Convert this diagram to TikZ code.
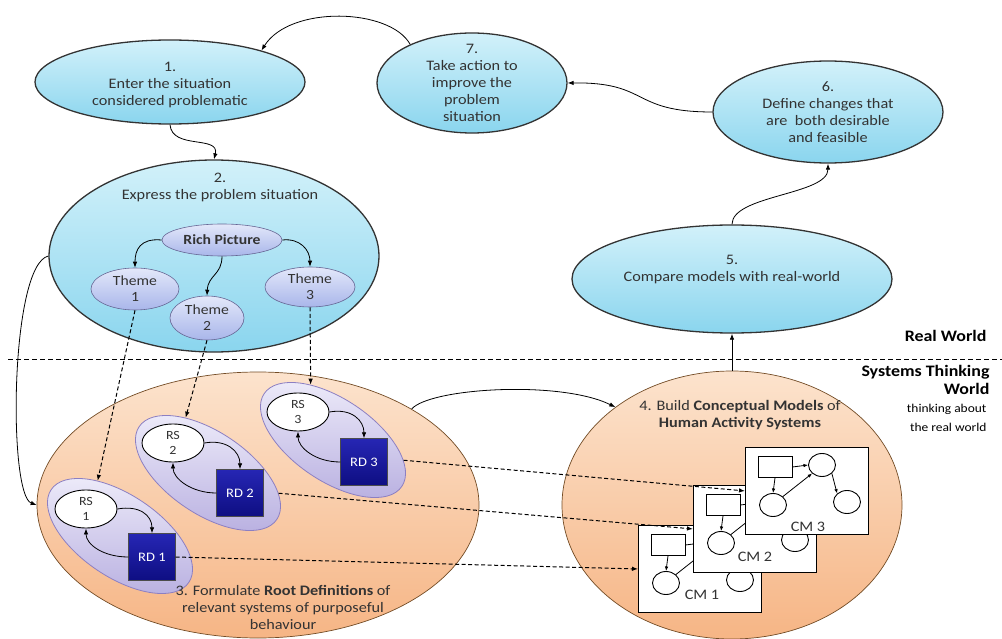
\documentclass[tikz,border=0pt]{standalone}
\usepackage{fontspec}
\setmainfont{Carlito}[FakeStretch=1.12]
\usetikzlibrary{shapes.geometric, arrows.meta}

\definecolor{skytop}{HTML}{D2F1FA}
\definecolor{skybot}{HTML}{8AD5EE}
\definecolor{peachtop}{HTML}{FCE3CD}
\definecolor{peachbot}{HTML}{F6B585}
\definecolor{lilactop}{HTML}{EFEDFA}
\definecolor{lilacbot}{HTML}{B7AEE0}
\definecolor{lilacedge}{HTML}{8C7FC2}
\definecolor{themetop}{HTML}{E3E8FA}
\definecolor{themebot}{HTML}{A9B6EA}
\definecolor{rdtop}{HTML}{2626B4}
\definecolor{rdbot}{HTML}{0E0E82}
\definecolor{inkgray}{HTML}{333333}

\tikzset{
  stagenode/.style={ellipse, draw=black!80, line width=1.3pt, top color=skytop, bottom color=skybot, inner sep=0pt},
  worknode/.style={ellipse, draw=brown!60!black, line width=0.7pt, top color=peachtop, bottom color=peachbot, inner sep=0pt},
  themenode/.style={ellipse, draw=blue!30!black!60, line width=0.6pt, top color=themetop, bottom color=themebot, inner sep=0pt, align=center, text=inkgray, font=\fontsize{14}{16}\selectfont},
  groupnode/.style={ellipse, draw=lilacedge, line width=0.8pt, top color=lilactop, bottom color=lilacbot, inner sep=0pt, minimum width=166pt, minimum height=82pt, rotate=-34},
  rsnode/.style={ellipse, draw=black, line width=0.9pt, fill=white, inner sep=0pt, minimum width=62pt, minimum height=38pt, align=center, text=inkgray, font=\fontsize{12.5}{15}\selectfont},
  rdnode/.style={rectangle, draw=black!70, top color=rdtop, bottom color=rdbot, text=white, minimum size=47pt, inner sep=0pt, font=\fontsize{13}{15}\selectfont},
  cmbox/.style={rectangle, draw=black, line width=0.9pt, fill=white, minimum width=123pt, minimum height=87pt, anchor=north west, inner sep=0pt},
  cmrect/.style={rectangle, draw=black, line width=0.9pt, minimum width=34pt, minimum height=21pt, inner sep=0pt},
  cmcirc/.style={ellipse, draw=black, line width=0.9pt, minimum width=27pt, minimum height=23pt, inner sep=0pt},
  lbl/.style={align=center, text=inkgray, font=\fontsize{14.5}{17}\selectfont},
  arr/.style={line width=0.8pt, -{Latex[length=6pt,width=4.5pt]}},
  darr/.style={arr, dash pattern=on 4pt off 2.5pt, line width=1pt},
  cmarr/.style={line width=0.8pt, -{Latex[length=4.5pt,width=3.5pt]}},
}

\begin{document}
\begin{tikzpicture}[x=1pt, y=-1pt]

\useasboundingbox (0,0) rectangle (1002,639);

\draw[dash pattern=on 5pt off 3pt, line width=0.9pt] (8,359) -- (1002,359);

% the real world
\node (n1) at (170,82) [stagenode, minimum width=270pt, minimum height=84pt] {};
\node (n7) at (472,83) [stagenode, minimum width=190pt, minimum height=100pt] {};
\node (n6) at (828,112) [stagenode, minimum width=230pt, minimum height=102pt] {};
\node (n5) at (732,279) [stagenode, minimum width=320pt, minimum height=108pt] {};
\node (n2) at (214,256) [stagenode, minimum width=330pt, minimum height=192pt] {};

\node (t1) at (170,85) [lbl] {1.\\Enter the situation\\considered problematic};
\node (t7) at (472,83) [lbl] {7.\\Take action to\\improve the\\problem\\situation};
\node (t6) at (828,112) [lbl] {6.\\Define changes that\\are\ \ both desirable\\and feasible};
\node (t5) at (732,270) [lbl] {5.\\Compare models with real-world};
\node (t2) at (220,187) [lbl] {2.\\Express the problem situation};

\node (rp) at (222,240) [themenode, minimum width=120pt, minimum height=32pt] {\textbf{Rich Picture}};
\node (th1) at (135,289) [themenode, minimum width=88pt, minimum height=42pt] {Theme\\1};
\node (th2) at (207,318) [themenode, minimum width=74pt, minimum height=44pt] {Theme\\2};
\node (th3) at (310,287) [themenode, minimum width=90pt, minimum height=40pt] {Theme\\3};

\node (rw) at (990,336) [anchor=east, text=black, font=\fontsize{16}{18}\selectfont\bfseries] {Real World};
\node (stw) at (993,380) [anchor=east, align=right, text=black, font=\fontsize{16}{18}\selectfont\bfseries] {Systems Thinking\\World};
\node (tab) at (990,418) [anchor=east, align=right, text=black, font=\fontsize{12}{19}\selectfont] {thinking about\\the real world};

% systems thinking world
\node (n3) at (258,505) [worknode, minimum width=442pt, minimum height=266pt] {};
\node (n4) at (732,505) [worknode, minimum width=340pt, minimum height=268pt] {};

\node (t4) at (740,415) [lbl] {4. Build \textbf{Conceptual Models} of\\\textbf{Human Activity Systems}};

\node (g1) at (120,536) [groupnode] {};
\node (g2) at (208,473) [groupnode] {};
\node (g3) at (333,440) [groupnode] {};

\node (t3) at (283,607) [lbl] {3. Formulate \textbf{Root Definitions} of\\relevant systems of purposeful\\behaviour};

\node (rs1) at (86,509) [rsnode] {RS\\1};
\node (rs2) at (173,443) [rsnode] {RS\\2};
\node (rs3) at (298,412) [rsnode] {RS\\3};
\node (rd1) at (152,557) [rdnode] {RD 1};
\node (rd2) at (240,493) [rdnode] {RD 2};
\node (rd3) at (364,462) [rdnode] {RD 3};

\draw[arr] (rs1.east) .. controls +(22,-4) and +(0,-18) .. (rd1.north);
\draw[arr] (rs2.east) .. controls +(22,-4) and +(0,-18) .. (rd2.north);
\draw[arr] (rs3.east) .. controls +(22,-4) and +(0,-18) .. (rd3.north);
\draw[arr] (rd1.west) .. controls +(-25,0) and +(0,16) .. (rs1.south);
\draw[arr] (rd2.west) .. controls +(-25,0) and +(0,16) .. (rs2.south);
\draw[arr] (rd3.west) .. controls +(-25,0) and +(0,16) .. (rs3.south);

% conceptual models
\node (cm1) at (638,525) [cmbox] {};
\node (cr1) at (668,545) [cmrect] {};
\node (ca1) at (715,543) [cmcirc] {};
\node (cb1) at (666,583) [cmcirc] {};
\node (cc1) at (740,580) [cmcirc] {};
\draw[cmarr] (cr1.east) -- (ca1.west);
\draw[cmarr] (cr1.south) -- (cb1.north);
\draw[cmarr] (cb1.north east) -- (ca1.south west);
\draw[cmarr] (ca1.south east) -- (cc1.north west);
\node (cl1) at (702,595) [lbl] {CM 1};

\node (cm2) at (693,485) [cmbox] {};
\node (cr2) at (723,505) [cmrect] {};
\node (ca2) at (770,503) [cmcirc] {};
\node (cb2) at (721,543) [cmcirc] {};
\node (cc2) at (795,540) [cmcirc] {};
\draw[cmarr] (cr2.east) -- (ca2.west);
\draw[cmarr] (cr2.south) -- (cb2.north);
\draw[cmarr] (cb2.north east) -- (ca2.south west);
\draw[cmarr] (ca2.south east) -- (cc2.north west);
\node (cl2) at (755,557) [lbl] {CM 2};

\node (cm3) at (745,447) [cmbox] {};
\node (cr3) at (775,467) [cmrect] {};
\node (ca3) at (822,465) [cmcirc] {};
\node (cb3) at (773,505) [cmcirc] {};
\node (cc3) at (847,502) [cmcirc] {};
\draw[cmarr] (cr3.east) -- (ca3.west);
\draw[cmarr] (cr3.south) -- (cb3.north);
\draw[cmarr] (cb3.north east) -- (ca3.south west);
\draw[cmarr] (ca3.south east) -- (cc3.north west);
\node (cl3) at (808,527) [lbl] {CM 3};

% cycle
\draw[arr] (n7.148) .. controls (390,8) and (290,5) .. (n1.19);
\draw[arr] (n1.south) .. controls (172,150) and (220,135) .. (n2.north);
\draw[arr] (n2.west) .. controls (10,265) and (8,495) .. (n3.west);
\draw[arr] (n3.32) .. controls (430,388) and (560,380) .. (n4.140);
\draw[arr] (n4.north) -- (n5.south);
\draw[arr] (n5.north) .. controls (732,195) and (828,195) .. (n6.south);
\draw[arr] (n6.west) .. controls (630,112) and (650,82) .. (n7.east);

\draw[arr] (rp.west) .. controls (140,238) and (135,250) .. (th1.north);
\draw[arr] (rp.south) .. controls (222,275) and (208,275) .. (th2.north);
\draw[arr] (rp.east) .. controls (300,238) and (310,250) .. (th3.north);

\draw[darr] (th1.south) -- (g1.146);
\draw[darr] (th2.south) -- (g2.146);
\draw[darr] (th3.south) -- (g3.146);

\draw[darr] (rd1.east) -- (cm1.west);
\draw[darr] (g2.18) -- (cm2.west);
\draw[darr] (g3.18) -- (cm3.west);

\end{tikzpicture}
\end{document}
